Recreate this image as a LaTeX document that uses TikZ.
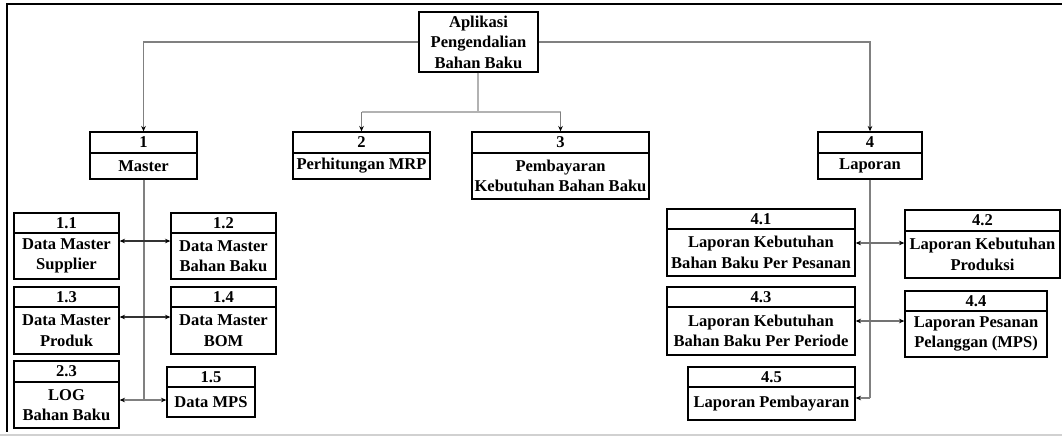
\documentclass[tikz,border=0pt]{standalone}
\usepackage{fontspec}
\setmainfont{Liberation Serif}
\usetikzlibrary{arrows.meta,fit}

\tikzset{
  boxframe/.style={draw=black, line width=1pt, inner sep=0pt},
  divider/.style={draw=black, line width=1pt},
  boxtext/.style={font=\bfseries\fontsize{12.4pt}{15.3pt}\selectfont, align=center, inner sep=0pt},
  conn/.style={draw=black!50, line width=0.8pt, -{Stealth[length=4pt,width=3.4pt,color=black]}},
  connplain/.style={draw=black!50, line width=0.8pt},
  connlight/.style={draw=black!30, line width=0.8pt},
  dbl/.style={draw=black!80, line width=0.8pt, {Stealth[length=4pt,width=3.4pt,color=black]}-{Stealth[length=4pt,width=3.4pt,color=black]}},
  dblgray/.style={draw=black!55, line width=0.8pt, {Stealth[length=4pt,width=3.4pt,color=black]}-{Stealth[length=4pt,width=3.4pt,color=black]}},
}

% name, x1, y1, x2, y2, y of divider, number, label
\newcommand\procbox[8]{%
  \node[boxframe, fit={(#2,#3) (#4,#5)}] (#1) {};
  \draw[divider] (#2,#6) -- (#4,#6);
  \node[boxtext] (#1-num) at ({(#2+#4)/2},{(#3+#6)/2}) {#7};
  \node[boxtext] (#1-txt) at ({(#2+#4)/2},{(#6+#5)/2}) {#8};
}

\begin{document}
\begin{tikzpicture}[x=0.75pt, y=-0.75pt]
  \useasboundingbox (0,0) rectangle (1062,436);

  % page frame
  \draw[black, line width=1.5pt] (1062,4) -- (7,4) -- (7,432);
  \draw[black!18, line width=0.8pt] (0,435) -- (1062,435);

  % root
  \node[boxframe, fit={(419,12) (538,72)}] (root) {};
  \node[boxtext] (root-txt) at (478.5,42) {Aplikasi\\Pengendalian\\Bahan Baku};

  % first level
  \procbox{b1}{90}{132}{197}{179}{153}{1}{Master}
  \procbox{b2}{293}{132}{430}{179}{153}{2}{Perhitungan MRP}
  \procbox{b3}{472}{132}{649}{199}{153}{3}{Pembayaran\\Kebutuhan Bahan Baku}
  \procbox{b4}{818}{132}{922}{179}{153}{4}{Laporan}

  % master children
  \procbox{m11}{14}{213}{119}{279}{233}{1.1}{Data Master\\Supplier}
  \procbox{m12}{171}{213}{276}{279}{233}{1.2}{Data Master\\Bahan Baku}
  \procbox{m13}{14}{287}{119}{354}{307}{1.3}{Data Master\\Produk}
  \procbox{m14}{171}{287}{276}{354}{307}{1.4}{Data Master\\BOM}
  \procbox{m23}{14}{361}{119}{428}{382}{2.3}{LOG\\Bahan Baku}
  \procbox{m15}{167}{367}{255}{417}{387}{1.5}{Data MPS}

  % report children
  \procbox{r41}{667}{209}{855}{276}{229}{4.1}{Laporan Kebutuhan\\Bahan Baku Per Pesanan}
  \procbox{r42}{905}{210}{1060}{278}{231}{4.2}{Laporan Kebutuhan\\Produksi}
  \procbox{r43}{667}{287}{855}{355}{307}{4.3}{Laporan Kebutuhan\\Bahan Baku Per Periode}
  \procbox{r44}{905}{291}{1047}{357}{311}{4.4}{Laporan Pesanan\\Pelanggan (MPS)}
  \procbox{r45}{688}{367}{855}{420}{387}{4.5}{Laporan Pembayaran}

  % root to first level
  \draw[conn] (root.west) -| (b1.north);
  \draw[conn] (root.east) -| (b4.north);
  \coordinate (split) at (478,112);
  \draw[connlight] (root.south -| split) -- (split);
  \draw[connlight] (b2.north |- split) -- (b3.north |- split);
  \draw[conn] (b2.north |- split) -- (b2.north);
  \draw[conn] (b3.north |- split) -- (b3.north);

  % master branch
  \coordinate (mj) at (144,400);
  \draw[connplain] (b1.south -| mj) -- (mj);
  \draw[conn] (mj) -- (m23.east |- mj);
  \draw[conn] (mj) -- (m15.west |- mj);
  \draw[dbl] (m11.east |- 0,241) -- (m12.west |- 0,241);
  \draw[dbl] (m13.east |- 0,317) -- (m14.west |- 0,317);

  % report branch
  \coordinate (rj) at (870,398);
  \draw[connplain] (b4.south -| rj) -- (rj);
  \draw[conn] (rj) -- (r45.east |- rj);
  \draw[dblgray] (r41.east |- 0,243) -- (r42.west |- 0,243);
  \draw[dblgray] (r43.east |- 0,321) -- (r44.west |- 0,321);
\end{tikzpicture}
\end{document}
